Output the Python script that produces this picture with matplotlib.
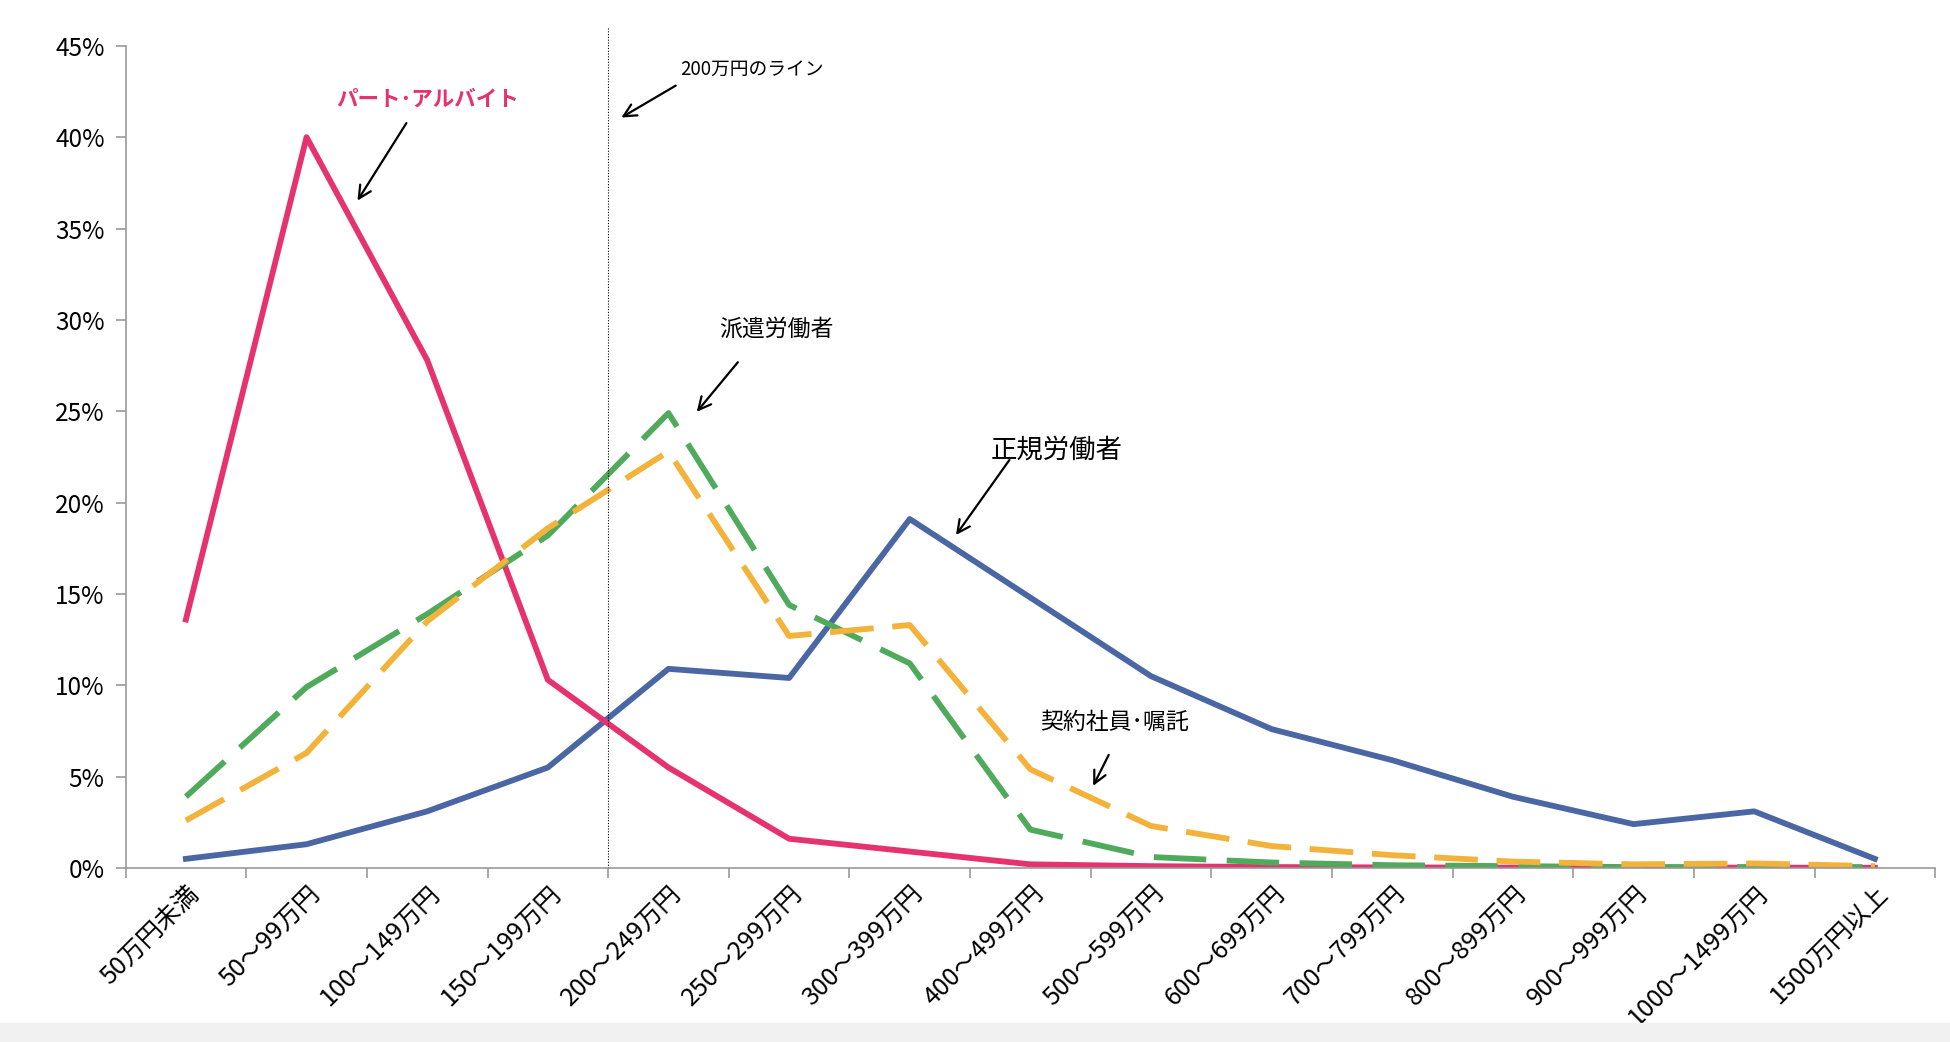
import matplotlib
matplotlib.use("Agg")
import matplotlib.pyplot as plt
from matplotlib.patches import Rectangle

plt.rcParams['font.family'] = ['Noto Sans CJK JP', 'DejaVu Sans']

categories = ["50万円未満", "50～99万円", "100～149万円", "150～199万円",
              "200～249万円", "250～299万円", "300～399万円", "400～499万円",
              "500～599万円", "600～699万円", "700～799万円", "800～899万円",
              "900～999万円", "1000～1499万円", "1500万円以上"]

# 割合 (%)
seiki = [0.5, 1.3, 3.1, 5.5, 10.9, 10.4, 19.1, 14.8, 10.5, 7.6, 5.9, 3.9, 2.4, 3.1, 0.5]
part = [13.6, 40.0, 27.8, 10.3, 5.5, 1.6, 0.9, 0.2, 0.1, 0.05, 0.03, 0.02, 0.02, 0.02, 0.01]
haken = [3.9, 9.9, 13.9, 18.2, 24.9, 14.4, 11.2, 2.1, 0.6, 0.3, 0.15, 0.1, 0.05, 0.05, 0.05]
keiyaku = [2.6, 6.3, 13.5, 18.6, 22.8, 12.7, 13.3, 5.4, 2.3, 1.2, 0.7, 0.35, 0.2, 0.25, 0.1]

x = list(range(len(categories)))

fig = plt.figure(figsize=(19.5, 10.42), dpi=100, facecolor='white')
ax = fig.add_axes([0.0644, 0.167, 0.928, 0.789])

ax.plot(x, seiki, color='#4a67a3', lw=4.2)
ax.plot(x, part, color='#e6336f', lw=4.2)
ax.plot(x, haken, color='#4faa5c', lw=4.2, dashes=(9, 3.5))
ax.plot(x, keiyaku, color='#f3b23a', lw=4.2, dashes=(7.5, 3.2))

# 200万円のライン
ax.plot([3.5, 3.5], [0, 46], color='black', lw=0.8, ls=(0, (1, 1.5)), clip_on=False)

ax.set_xlim(-0.5, len(categories) - 0.5)
ax.set_ylim(0, 45)
ax.set_yticks(range(0, 46, 5))
ax.set_yticklabels([f"{v}%" for v in range(0, 46, 5)], fontsize=17.5)

ax.set_xticks([i - 0.5 for i in range(len(categories) + 1)])
ax.set_xticklabels([])
ax.set_xticks(x, minor=True)
ax.set_xticklabels(categories, minor=True, rotation=45, ha='right',
                   rotation_mode='anchor', fontsize=18)
ax.tick_params(axis='x', which='minor', length=0, pad=9)
ax.tick_params(axis='both', which='major', color='#999999', length=7, width=1.2)
ax.tick_params(axis='y', pad=8)

for s in ['top', 'right']:
    ax.spines[s].set_visible(False)
for s in ['left', 'bottom']:
    ax.spines[s].set_color('#999999')
    ax.spines[s].set_linewidth(1.2)

arrow = dict(arrowstyle='->,head_length=0.9,head_width=0.45', color='black', lw=1.6)

ax.text(2.0, 42.1, "パート･アルバイト", color='#e6336f', fontsize=15.5,
        fontweight='bold', ha='center', va='center')
ax.annotate('', xy=(1.41, 36.4), xytext=(1.84, 40.9), arrowprops=arrow)

ax.text(4.10, 43.7, "200万円のライン", fontsize=13.5, ha='left', va='center')
ax.annotate('', xy=(3.59, 41.0), xytext=(4.08, 42.9), arrowprops=arrow)

ax.text(4.89, 29.5, "派遣労働者", fontsize=16.5, ha='center', va='center')
ax.annotate('', xy=(4.22, 24.85), xytext=(4.59, 27.8), arrowprops=arrow)

ax.text(7.22, 22.9, "正規労働者", fontsize=19, ha='center', va='center')
ax.annotate('', xy=(6.37, 18.1), xytext=(6.84, 22.46), arrowprops=arrow)

ax.text(7.70, 7.96, "契約社員･嘱託", fontsize=16.5, ha='center', va='center')
ax.annotate('', xy=(7.51, 4.36), xytext=(7.66, 6.33), arrowprops=arrow)

fig.patches.append(Rectangle((0, 0), 1, 0.018, transform=fig.transFigure,
                             color='#f1f1f1', zorder=0))

fig.savefig("out.png", dpi=100, facecolor='white')
